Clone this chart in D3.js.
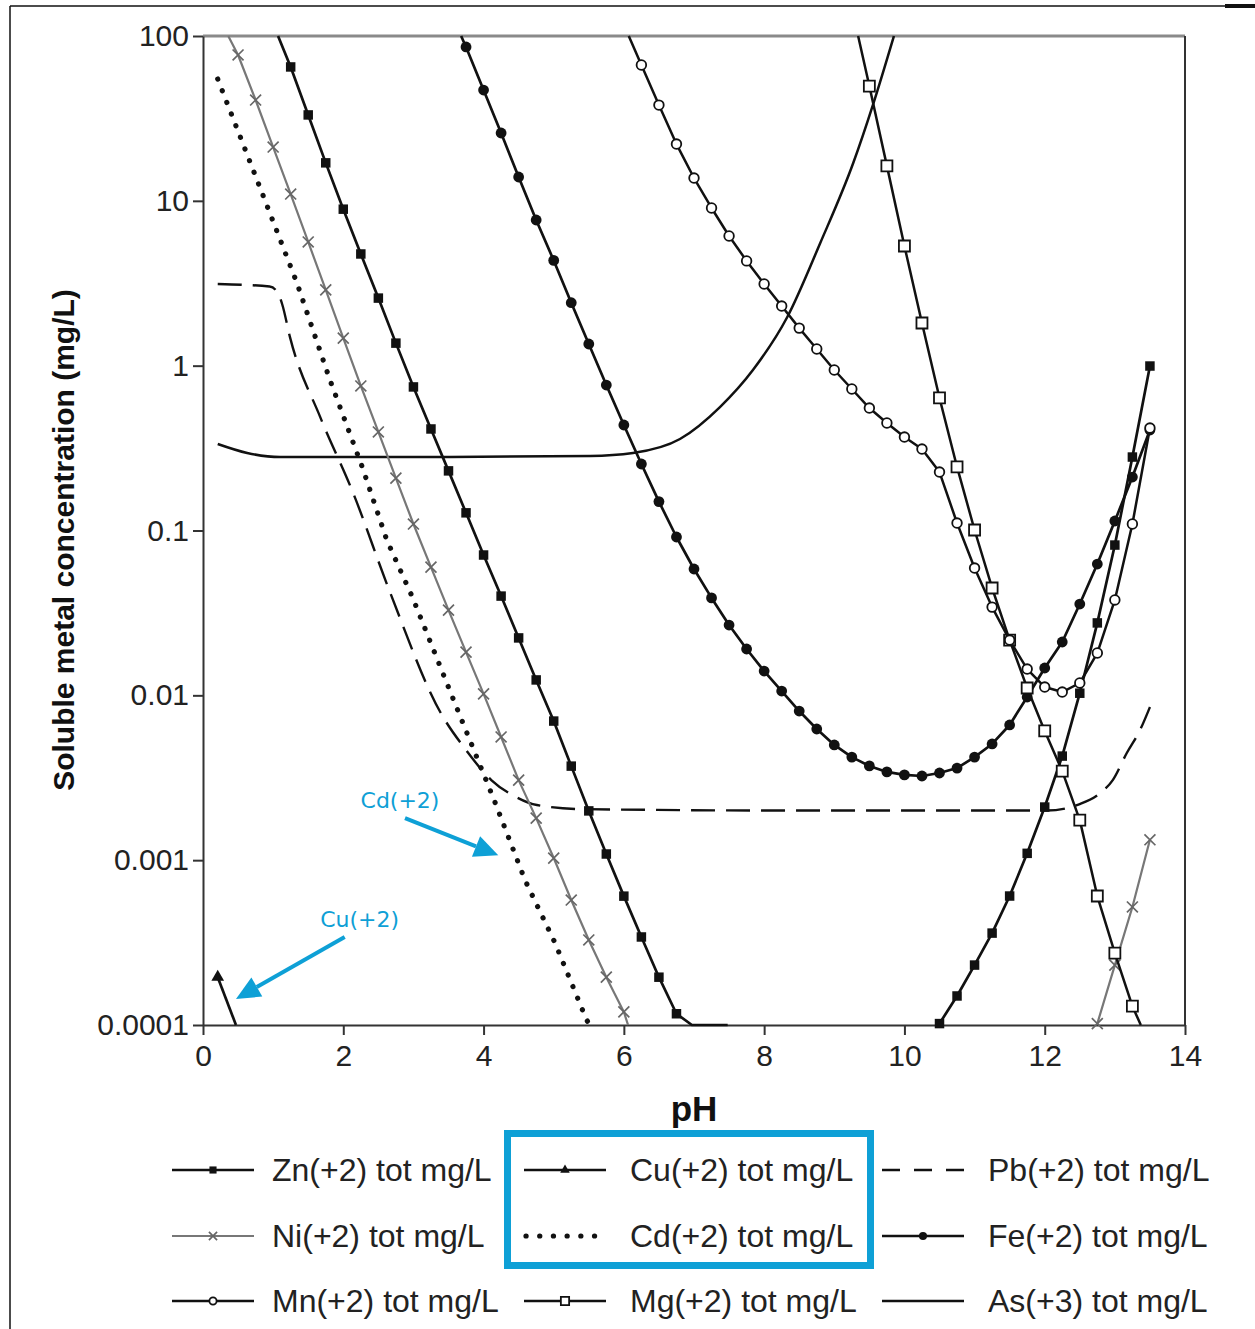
<!DOCTYPE html>
<html>
<head>
<meta charset="utf-8">
<script src="https://cdn.jsdelivr.net/npm/d3@7"></script>
<style>
  body { margin: 0; background: #fff; }
  svg { display: block; }
</style>
</head>
<body>
<svg id="chart" width="1255" height="1329"></svg>
<script>
// axis ticks
var phTicks = [0, 2, 4, 6, 8, 10, 12, 14];
var concTicks = [100, 10, 1, 0.1, 0.01, 0.001, 0.0001];
var concTickLabels = ["100", "10", "1", "0.1", "0.01", "0.001", "0.0001"];

// [pH, mg/L]
var znFalling = [[1.07,100],[1.25,64.9],[1.5,33.2],[1.75,17.0],[2.0,8.9],[2.25,4.76],[2.5,2.57],[2.75,1.37],
  [3.0,0.743],[3.25,0.413],[3.5,0.230],[3.75,0.128],[4.0,0.071],[4.25,0.040],[4.5,0.0223],[4.75,0.0124],
  [5.0,0.00698],[5.25,0.00372],[5.5,0.00199],[5.75,0.00109],[6.0,0.000605],[6.25,0.000342],[6.5,0.000195],
  [6.75,0.000117],[6.97,0.0001],[7.48,0.0001]];
var znRising = [[10.5,0.000102],[10.75,0.00015],[11.0,0.000231],[11.25,0.000361],[11.5,0.000606],[11.75,0.0011],
  [12.0,0.0021],[12.25,0.00428],[12.5,0.0103],[12.75,0.0275],[13.0,0.0816],[13.25,0.279],[13.5,0.995]];
var cuPoints = [[0.21,0.000195],[0.47,0.0001]];
var pbPoints = [[0.21,3.13],[0.95,3.02],[1.06,2.8],[1.13,2.35],[1.24,1.49],[1.67,0.489],[2.14,0.169],[2.67,0.0418],
  [3.39,0.00781],[3.75,0.00466],[4.11,0.00306],[4.46,0.00242],[4.76,0.00216],[5.42,0.00204],[8.5,0.0020],
  [12.03,0.0020],[12.5,0.00219],[12.79,0.00255],[12.97,0.00306],[13.17,0.00447],[13.36,0.00617],[13.5,0.00849]];
var niFalling = [[0.36,100],[0.5,76.7],[0.75,40.9],[1.0,21.2],[1.25,11.0],[1.5,5.63],[1.75,2.88],[2.0,1.47],
  [2.25,0.753],[2.5,0.396],[2.75,0.208],[3.0,0.1095],[3.25,0.060],[3.5,0.0329],[3.75,0.0183],[4.0,0.0102],
  [4.25,0.00559],[4.5,0.00306],[4.75,0.0018],[5.0,0.00103],[5.25,0.000573],[5.5,0.000328],[5.75,0.000195],
  [6.0,0.00012],[6.06,0.0001]];
var niRising = [[12.75,0.000102],[13.0,0.000231],[13.25,0.00052],[13.5,0.00133]];
var cdPoints = [[0.21,54.8],[0.77,13.4],[1.34,3.17],[1.81,0.818],[2.27,0.243],[2.62,0.0876],[2.99,0.039],
  [3.59,0.00898],[4.15,0.00232],[4.59,0.000758],[5.02,0.000314],[5.47,0.000107],[5.52,0.0001]];
var fePoints = [[3.68,100],[3.75,85.8],[4.0,47.0],[4.25,25.8],[4.5,13.95],[4.75,7.65],[5.0,4.35],[5.25,2.41],
  [5.5,1.353],[5.75,0.763],[6.0,0.4365],[6.25,0.2532],[6.5,0.1497],[6.75,0.0913],[7.0,0.0584],[7.25,0.039],
  [7.5,0.0267],[7.75,0.0191],[8.0,0.01404],[8.25,0.01062],[8.5,0.00803],[8.75,0.00625],[9.0,0.005],
  [9.25,0.00422],[9.5,0.00373],[9.75,0.00343],[10.0,0.00329],[10.25,0.00324],[10.5,0.00338],[10.75,0.00362],
  [11.0,0.00422],[11.25,0.00507],[11.5,0.00661],[11.75,0.00977],[12.0,0.01465],[12.25,0.02106],[12.5,0.0358],
  [12.75,0.0626],[13.0,0.1142],[13.25,0.211],[13.5,0.407]];
var mnPoints = [[6.07,100],[6.25,66.7],[6.5,38.1],[6.75,22.1],[7.0,13.75],[7.25,9.05],[7.5,6.12],[7.75,4.32],
  [8.0,3.13],[8.25,2.30],[8.5,1.69],[8.75,1.262],[9.0,0.941],[9.25,0.722],[9.5,0.553],[9.75,0.449],[10.0,0.369],
  [10.25,0.312],[10.5,0.2263],[10.75,0.111],[11.0,0.0592],[11.25,0.0343],[11.5,0.02165],[11.75,0.01444],
  [12.0,0.01123],[12.25,0.01047],[12.5,0.01188],[12.75,0.01806],[13.0,0.0379],[13.25,0.1095],[13.5,0.4184]];
var mgPoints = [[9.34,100],[9.5,49.7],[9.75,16.3],[10.0,5.32],[10.25,1.815],[10.5,0.637],[10.75,0.243],
  [11.0,0.1007],[11.25,0.0448],[11.5,0.02165],[11.75,0.01108],[12.0,0.00608],[12.25,0.00347],[12.5,0.00175],
  [12.75,0.000606],[13.0,0.000273],[13.25,0.00013],[13.37,0.0001]];
var asPoints = [[0.21,0.3347],[0.63,0.2953],[1.1,0.2792],[3.52,0.2792],[5.52,0.2831],[6.13,0.2953],[6.8,0.359],
  [7.37,0.561],[7.84,0.941],[8.33,1.973],[8.8,5.55],[9.27,16.96],[9.55,38.1],[9.85,100]];

// callouts: [pH, mg/L] of arrow tail and tip
var cdNote = { label: "Cd(+2)", from: [2.88, 0.0018], to: [4.21, 0.00107] };
var cuNote = { label: "Cu(+2)", from: [2.02, 0.000342], to: [0.47, 0.000144] };

var series = [
  { name: "As(+3) tot mg/L", parts: [asPoints], color: "#111", width: 2.5, marker: null, curve: true },
  { name: "Pb(+2) tot mg/L", parts: [pbPoints], color: "#111", width: 2.4, dash: "24,11", marker: null, curve: true },
  { name: "Cd(+2) tot mg/L", parts: [cdPoints], color: "#111", width: 5.2, dash: "0.1,12.4", cap: "round", marker: null },
  { name: "Ni(+2) tot mg/L", parts: [niFalling, niRising], color: "#777", width: 2.2, marker: "x" },
  { name: "Zn(+2) tot mg/L", parts: [znFalling, znRising], color: "#111", width: 2.7, marker: "square" },
  { name: "Cu(+2) tot mg/L", parts: [cuPoints], color: "#111", width: 2.7, marker: "triangle" },
  { name: "Fe(+2) tot mg/L", parts: [fePoints], color: "#111", width: 2.7, marker: "dot" },
  { name: "Mg(+2) tot mg/L", parts: [mgPoints], color: "#111", width: 2.5, marker: "osquare" },
  { name: "Mn(+2) tot mg/L", parts: [mnPoints], color: "#111", width: 2.5, marker: "circle" }
];
var legendOrder = [
  ["Zn(+2) tot mg/L", "Ni(+2) tot mg/L", "Mn(+2) tot mg/L"],
  ["Cu(+2) tot mg/L", "Cd(+2) tot mg/L", "Mg(+2) tot mg/L"],
  ["Pb(+2) tot mg/L", "Fe(+2) tot mg/L", "As(+3) tot mg/L"]
];

var svg = d3.select("#chart");
var font = "'Liberation Sans', Arial, Helvetica, sans-serif";
var blue = "#0ea0d6";

var x = d3.scaleLinear().domain([0, 14]).range([203, 1185]);
var y = d3.scaleLog().domain([0.0001, 100]).range([1025, 36]);

// outer frame bits of the scanned figure
svg.append("line").attr("x1", 10).attr("x2", 1225).attr("y1", 6).attr("y2", 6)
  .attr("stroke", "#111").attr("stroke-width", 1.5);
svg.append("line").attr("x1", 10).attr("x2", 10).attr("y1", 6).attr("y2", 1329)
  .attr("stroke", "#111").attr("stroke-width", 1.5);
svg.append("rect").attr("x", 1225).attr("y", 4).attr("width", 30).attr("height", 4).attr("fill", "#111");

// plot box
svg.append("line").attr("x1", x(0)).attr("x2", x(14)).attr("y1", y(100)).attr("y2", y(100))
  .attr("stroke", "#8a8a8a").attr("stroke-width", 3);
svg.append("line").attr("x1", x(14)).attr("x2", x(14)).attr("y1", y(100)).attr("y2", y(0.0001))
  .attr("stroke", "#333").attr("stroke-width", 2);

var yAxis = d3.axisLeft(y).tickValues(concTicks)
  .tickFormat(function(d, i) { return concTickLabels[i]; })
  .tickSize(10).tickSizeOuter(0).tickPadding(4);
var gy = svg.append("g").attr("transform", "translate(" + x(0) + ",0)").call(yAxis);

var xAxis = d3.axisBottom(x).tickValues(phTicks).tickSize(10).tickSizeOuter(0).tickPadding(10);
var gx = svg.append("g").attr("transform", "translate(0," + y(0.0001) + ")").call(xAxis);

[gx, gy].forEach(function(g) {
  g.select(".domain").attr("stroke", "#333").attr("stroke-width", 2);
  g.selectAll(".tick line").attr("stroke", "#333").attr("stroke-width", 2);
  g.selectAll(".tick text").attr("font-family", font).attr("font-size", 30).attr("fill", "#222");
});

svg.append("text").attr("x", 694).attr("y", 1121).attr("text-anchor", "middle")
  .attr("font-family", font).attr("font-weight", "bold").attr("font-size", 35).attr("fill", "#111")
  .text("pH");
svg.append("text").attr("transform", "translate(74,540) rotate(-90)").attr("text-anchor", "middle")
  .attr("font-family", font).attr("font-weight", "bold").attr("font-size", 30).attr("fill", "#111")
  .text("Soluble metal concentration (mg/L)");

function drawMarker(g, type, cx, cy, color, k) {
  k = k || 1;
  if (type == "square") {
    g.append("path").attr("d", d3.symbol().type(d3.symbolSquare).size(90 * k * k)())
      .attr("transform", "translate(" + cx + "," + cy + ")").attr("fill", color);
  } else if (type == "triangle") {
    g.append("path").attr("d", d3.symbol().type(d3.symbolTriangle).size(70 * k * k)())
      .attr("transform", "translate(" + cx + "," + cy + ")").attr("fill", color);
  } else if (type == "x") {
    g.append("path").attr("d", d3.symbol().type(d3.symbolX).size(80 * k * k)())
      .attr("transform", "translate(" + cx + "," + cy + ")")
      .attr("fill", "none").attr("stroke", "#666").attr("stroke-width", 1.7);
  } else if (type == "dot") {
    g.append("circle").attr("cx", cx).attr("cy", cy).attr("r", 5.4 * k).attr("fill", color);
  } else if (type == "circle") {
    g.append("circle").attr("cx", cx).attr("cy", cy).attr("r", 4.8 * k)
      .attr("fill", "#fff").attr("stroke", color).attr("stroke-width", 1.8);
  } else if (type == "osquare") {
    g.append("path").attr("d", d3.symbol().type(d3.symbolSquare).size(121 * k * k)())
      .attr("transform", "translate(" + cx + "," + cy + ")")
      .attr("fill", "#fff").attr("stroke", color).attr("stroke-width", 1.8);
  }
}

function styleLine(sel, s) {
  sel.attr("fill", "none").attr("stroke", s.color).attr("stroke-width", s.width)
    .attr("stroke-linejoin", "round");
  if (s.dash) sel.attr("stroke-dasharray", s.dash);
  if (s.cap) sel.attr("stroke-linecap", s.cap);
}

var plot = svg.append("g");
series.forEach(function(s) {
  var line = d3.line()
    .x(function(d) { return x(d[0]); })
    .y(function(d) { return y(d[1]); })
    .curve(s.curve ? d3.curveMonotoneX : d3.curveLinear);
  var g = plot.append("g");
  s.parts.forEach(function(pts) {
    styleLine(g.append("path").attr("d", line(pts)), s);
  });
  if (s.marker) {
    s.parts.forEach(function(pts) {
      pts.forEach(function(d) {
        if (d[1] > 0.0001 && d[1] < 100) drawMarker(g, s.marker, x(d[0]), y(d[1]), s.color);
      });
    });
  }
});

// callouts
function callout(note, lx, ly) {
  var g = svg.append("g");
  var x1 = x(note.from[0]), y1 = y(note.from[1]);
  var x2 = x(note.to[0]), y2 = y(note.to[1]);
  var ang = Math.atan2(y2 - y1, x2 - x1);
  var hl = 24, hw = 11;
  var bx = x2 - hl * Math.cos(ang), by = y2 - hl * Math.sin(ang);
  g.append("line").attr("x1", x1).attr("y1", y1).attr("x2", bx).attr("y2", by)
    .attr("stroke", blue).attr("stroke-width", 4);
  g.append("path")
    .attr("d", "M" + x2 + "," + y2 +
      "L" + (bx + hw * Math.sin(ang)) + "," + (by - hw * Math.cos(ang)) +
      "L" + (bx - hw * Math.sin(ang)) + "," + (by + hw * Math.cos(ang)) + "Z")
    .attr("fill", blue);
  g.append("text").attr("x", x1 + lx).attr("y", y1 + ly).attr("text-anchor", "middle")
    .attr("font-family", "'DejaVu Sans', Verdana, sans-serif").attr("font-size", 22)
    .attr("fill", blue).text(note.label);
}
callout(cdNote, -5, -10);
callout(cuNote, 15, -10);

// legend
var legCols = [172, 524, 882];
var legRows = [1170, 1236, 1301];
var legend = svg.append("g");
legendOrder.forEach(function(col, ci) {
  col.forEach(function(name, ri) {
    var s = series.filter(function(t) { return t.name == name; })[0];
    var lx = legCols[ci], ly = legRows[ri];
    var ls = Object.assign({}, s);
    if (name.indexOf("Pb") == 0) ls.dash = "18,14";
    if (name.indexOf("Cd") == 0) ls.dash = "0.1,13.6";
    styleLine(legend.append("line").attr("x1", lx + (s.cap ? 2 : 0)).attr("x2", lx + 82)
      .attr("y1", ly).attr("y2", ly), ls);
    if (s.marker) drawMarker(legend, s.marker, lx + 41, ly, s.color, 0.75);
    legend.append("text").attr("x", lx + (ci == 0 ? 100 : 106)).attr("y", ly + 11)
      .attr("font-family", font).attr("font-size", 32).attr("fill", "#222").text(name);
  });
});

svg.append("rect").attr("x", 507.5).attr("y", 1133.5).attr("width", 363).attr("height", 132)
  .attr("fill", "none").attr("stroke", blue).attr("stroke-width", 7);
</script>
</body>
</html>
